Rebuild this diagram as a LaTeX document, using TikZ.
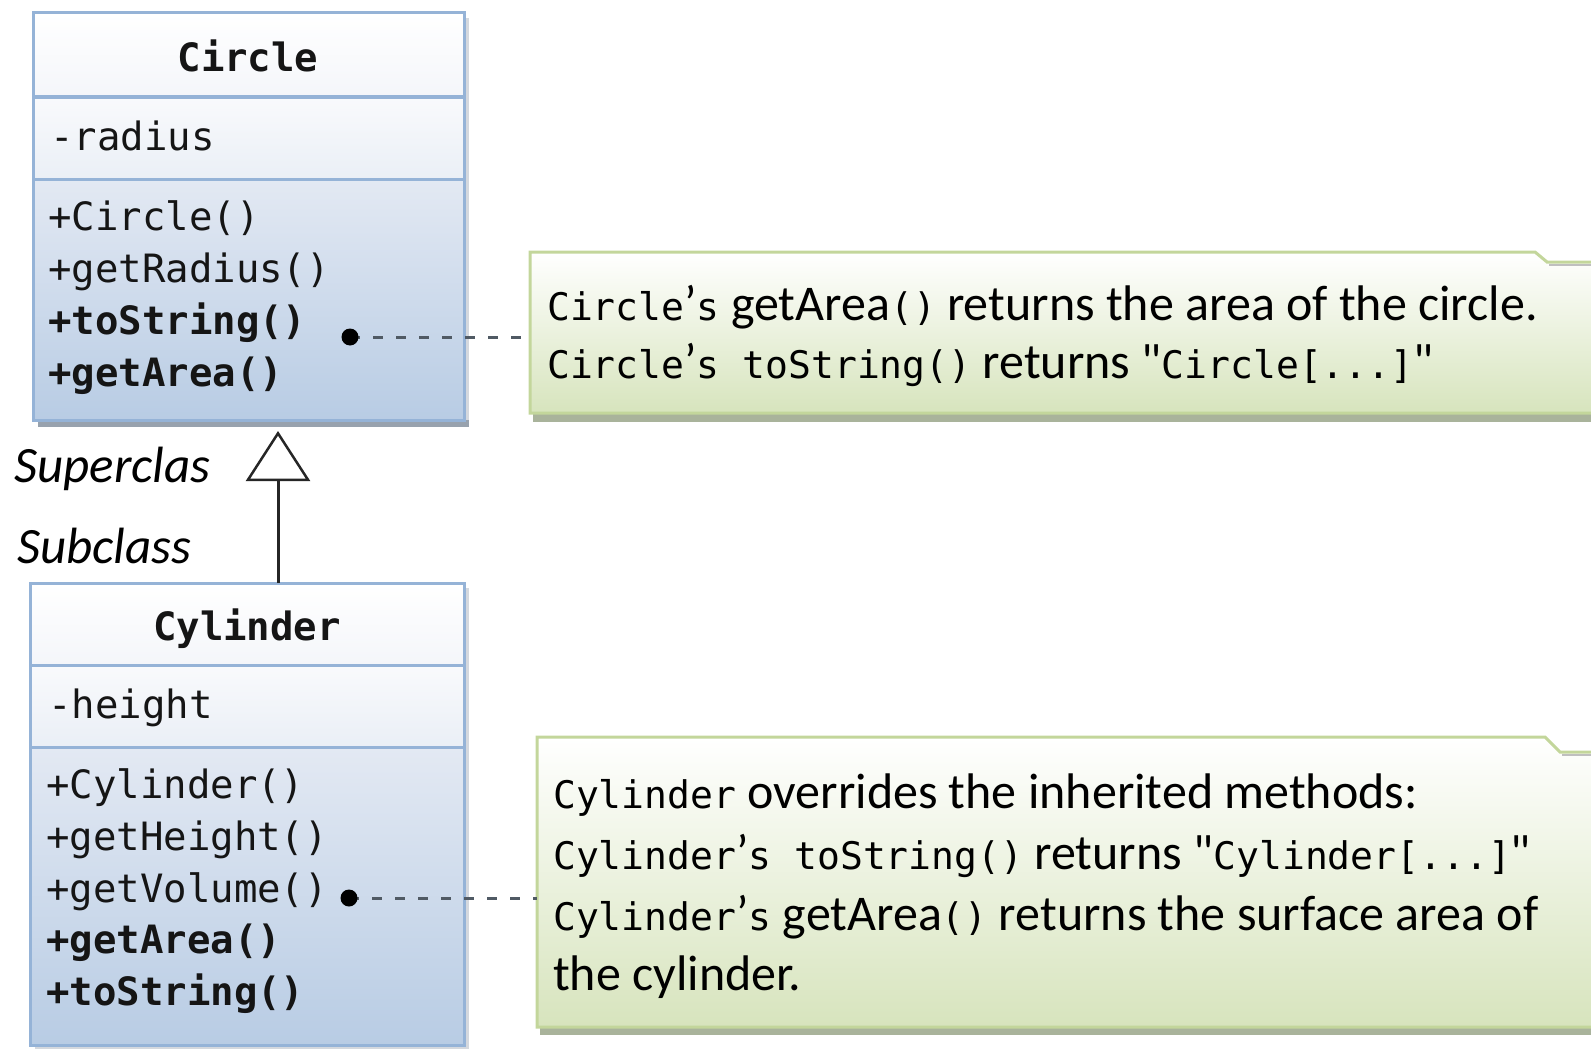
\documentclass[tikz,border=0pt]{standalone}
\usepackage{fontspec}
\setmainfont{Carlito}
\newfontfamily\prosefont{Carlito}
\newfontfamily\monofont{DejaVu Sans Mono}
\usetikzlibrary{arrows.meta}

\definecolor{umlborder}{HTML}{95B3D7}
\definecolor{titlebot}{HTML}{F4F6FA}
\definecolor{attrtop}{HTML}{F9FAFC}
\definecolor{attrbot}{HTML}{EAEFF6}
\definecolor{methtop}{HTML}{E3E9F3}
\definecolor{methbot}{HTML}{B8CCE4}
\definecolor{shadowsoft}{HTML}{D4D8DE}
\definecolor{shadowdark}{HTML}{98A2AE}
\definecolor{noteborder}{HTML}{C3D69B}
\definecolor{notebot}{HTML}{D7E4BD}
\definecolor{noteshadow}{HTML}{A9B39B}
\definecolor{connector}{HTML}{505A64}
\definecolor{inktext}{HTML}{151515}

% inline code inside the notes
\newcommand\codeit[1]{{\monofont\fontsize{38}{46}\selectfont #1}}

\tikzset{
  classarea/.style={rectangle, inner sep=0pt, outer sep=0pt, anchor=north west},
  notearea/.style={rectangle, inner sep=0pt, outer sep=0pt, anchor=north west},
  classline/.style={draw=umlborder, line width=3pt},
  noteline/.style={draw=noteborder, line width=3pt, line join=miter},
  membertext/.style={font=\monofont\fontsize{39}{46}\selectfont, text=inktext,
    inner sep=0pt, anchor=base west},
  memberbold/.style={membertext, font=\monofont\bfseries\fontsize{39}{46}\selectfont},
  titletext/.style={memberbold, anchor=base},
  notetext/.style={font=\prosefont\fontsize{50}{58}\selectfont, text=black, inner sep=0pt,
    anchor=base west},
  rolelabel/.style={font=\prosefont\itshape\fontsize{51}{58}\selectfont, text=black,
    inner sep=0pt, anchor=base west},
  inherit/.style={draw=black!85, line width=3pt,
    -{Triangle[open, length=50pt, width=64pt, line width=2.5pt]}},
  noteconn/.style={draw=connector, line width=3pt, dash pattern=on 10pt off 13pt},
  dotfill/.style={fill=black},
}

\begin{document}
\begin{tikzpicture}[x=1pt, y=-1pt]
\useasboundingbox (0,0) rectangle (1591,1049);
\clip (0,0) rectangle (1591,1049);

% ---------- class Circle ----------
\node[classarea, minimum width=431pt, minimum height=407pt] (circlecls) at (33,13) {};
\fill[shadowsoft] (38,18) rectangle (469,427);
\fill[shadowdark] (38,420) rectangle (469,427);
\shade[top color=white, bottom color=titlebot] (33,13) rectangle (464,97);
\shade[top color=attrtop, bottom color=attrbot] (33,97) rectangle (464,179);
\shade[top color=methtop, bottom color=methbot] (33,179) rectangle (464,420);
\draw[classline] (circlecls.north west) rectangle (circlecls.south east);
\draw[classline] (circlecls.west |- 0,97) -- (circlecls.east |- 0,97);
\draw[classline] (circlecls.west |- 0,179) -- (circlecls.east |- 0,179);

\node[titletext] (circle-name) at (248,72) {Circle};
\node[membertext] (circle-radius) at (50,150) {-radius};
\node[membertext] (circle-ctor) at (48,230) {+Circle()};
\node[membertext] (circle-getradius) at (48,282) {+getRadius()};
\node[memberbold] (circle-tostring) at (48,334) {+toString()};
\node[memberbold] (circle-getarea) at (48,386) {+getArea()};

% ---------- class Cylinder ----------
\node[classarea, minimum width=434pt, minimum height=462pt] (cylcls) at (30,583) {};
\fill[shadowsoft] (35,588) rectangle (469,1052);
\shade[top color=white, bottom color=titlebot] (30,583) rectangle (464,665);
\shade[top color=attrtop, bottom color=attrbot] (30,665) rectangle (464,747);
\shade[top color=methtop, bottom color=methbot] (30,747) rectangle (464,1045);
\draw[classline] (cylcls.north west) rectangle (cylcls.south east);
\draw[classline] (cylcls.west |- 0,665) -- (cylcls.east |- 0,665);
\draw[classline] (cylcls.west |- 0,747) -- (cylcls.east |- 0,747);

\node[titletext] (cyl-name) at (247,640) {Cylinder};
\node[membertext] (cyl-height) at (48,718) {-height};
\node[membertext] (cyl-ctor) at (46,798) {+Cylinder()};
\node[membertext] (cyl-getheight) at (46,850) {+getHeight()};
\node[membertext] (cyl-getvolume) at (46,902) {+getVolume()};
\node[memberbold] (cyl-getarea) at (46,953) {+getArea()};
\node[memberbold] (cyl-tostring) at (46,1005) {+toString()};

% ---------- generalisation ----------
\node[rolelabel] (super-label) at (14,482) {Superclas};
\node[rolelabel] (sub-label) at (17,563) {Subclass};
\coordinate (inhtip) at (278,431);
\draw[inherit] (inhtip |- cylcls.north) -- (inhtip);

% ---------- note on Circle ----------
\node[notearea, minimum width=1070pt, minimum height=161pt] (note1) at (530,252) {};
\fill[noteshadow] (533,413) rectangle (1600,422);
\shade[top color=white, bottom color=notebot]
  (530,252) -- (1535,252) -- (1547,262) -- (1600,262) -- (1600,413) -- (530,413) -- cycle;
\draw[noteline] (1600,413) -- (530,413) -- (530,252) -- (1535,252) -- (1547,262) -- (1600,262);
\draw[black!25, line width=1.5pt] (1549,265) -- (1600,265);

\node[notetext] (note1-line1) at (547,320)
  {\codeit{Circle}’\codeit{s} getArea\codeit{()} returns the area of the circle.};
\node[notetext] (note1-line2) at (547,378)
  {\codeit{Circle}’\codeit{s toString()} returns "\codeit{Circle[...]}"};

\coordinate (dot1) at (350,337);
\draw[noteconn] (dot1) -- (dot1 -| note1.west);
\fill[dotfill] (dot1) circle (8.5);

% ---------- note on Cylinder ----------
\node[notearea, minimum width=1063pt, minimum height=290pt] (note2) at (537,737) {};
\fill[noteshadow] (540,1027) rectangle (1600,1035);
\shade[top color=white, bottom color=notebot]
  (537,737) -- (1545,737) -- (1560,752) -- (1600,752) -- (1600,1027) -- (537,1027) -- cycle;
\draw[noteline] (1600,1027) -- (537,1027) -- (537,737) -- (1545,737) -- (1560,752) -- (1600,752);
\draw[black!25, line width=1.5pt] (1562,755) -- (1600,755);

\node[notetext] (note2-line1) at (553,808)
  {\codeit{Cylinder} overrides the inherited methods:};
\node[notetext] (note2-line2) at (553,869)
  {\codeit{Cylinder}’\codeit{s toString()} returns "\codeit{Cylinder[...]}"};
\node[notetext] (note2-line3) at (553,930)
  {\codeit{Cylinder}’\codeit{s} getArea\codeit{()} returns the surface area of};
\node[notetext] (note2-line4) at (553,990)
  {the cylinder.};

\coordinate (dot2) at (349,898);
\draw[noteconn] (dot2) -- (dot2 -| note2.west);
\fill[dotfill] (dot2) circle (8.5);
\end{tikzpicture}
\end{document}
